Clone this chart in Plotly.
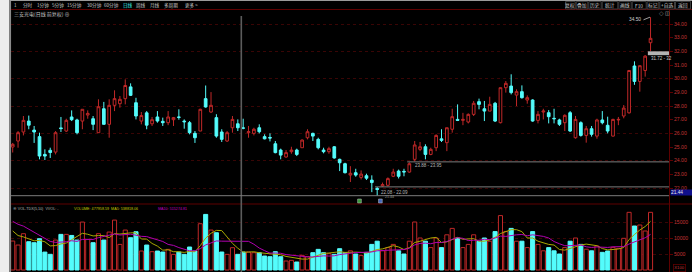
import plotly.graph_objects as go
import numpy as np

W, H = 692, 272
def px(x): return x / W
def py(y): return 1 - y / H

# ---------------- data ----------------
opens = [25.00, 25.44, 26.10, 26.90, 26.24, 25.76, 24.46, 24.76, 24.63, 26.40,
         26.17, 27.20, 26.98, 26.90, 27.34, 27.07, 26.05, 27.80, 26.66, 28.05,
         28.17, 28.54, 29.40, 28.24, 26.90, 27.50, 26.70, 27.20, 26.88, 26.78,
         27.00, 27.20, 26.90, 26.78, 26.00, 26.17, 28.54, 27.56, 27.15, 26.10,
         25.44, 26.41, 26.70, 26.40, 26.05, 26.00, 26.41, 25.76, 25.70, 25.24,
         24.78, 24.27, 24.66, 24.78, 24.95, 25.68, 26.00, 25.56, 24.78, 24.66,
         25.02, 24.10, 23.78, 22.95, 23.12, 22.78, 22.90, 22.58, 21.97, 22.15,
         22.20, 22.86, 23.24, 23.22, 23.17, 24.10, 24.83, 25.02, 24.46, 24.95,
         25.60, 25.32, 26.30, 27.02, 26.95, 26.83, 27.39, 28.32, 27.80, 27.63,
         28.20, 26.78, 29.34, 29.46, 28.80, 29.05, 28.44, 28.44, 26.95, 27.56,
         27.51, 27.10, 26.98, 26.78, 27.51, 25.68, 26.78, 25.85, 26.34, 25.80,
         26.98, 26.59, 25.80, 26.98, 27.27, 27.50, 30.93, 29.80, 30.60, 32.63]
closes = [25.20, 26.05, 26.95, 26.60, 26.10, 24.34, 24.34, 24.60, 26.05, 26.35,
          26.95, 27.00, 26.05, 27.76, 27.46, 26.66, 27.95, 26.66, 28.05, 28.54,
          28.49, 29.50, 28.78, 27.27, 27.30, 26.60, 27.00, 26.90, 26.78, 27.20,
          27.15, 27.17, 26.85, 26.05, 25.68, 27.76, 27.93, 28.05, 25.80, 25.56,
          26.05, 27.02, 26.41, 26.38, 26.12, 26.30, 26.12, 25.60, 25.66, 24.59,
          24.41, 24.59, 24.78, 24.46, 25.51, 26.12, 25.80, 24.95, 24.66, 24.88,
          24.20, 23.85, 23.12, 23.08, 22.95, 23.02, 22.72, 22.40, 21.90, 22.25,
          22.69, 23.17, 22.86, 23.18, 23.78, 25.15, 25.02, 24.46, 24.83, 25.85,
          25.49, 26.41, 27.22, 26.95, 27.02, 27.39, 28.20, 28.12, 27.63, 28.12,
          26.90, 29.34, 29.66, 28.98, 29.05, 28.61, 28.61, 26.90, 27.39, 27.63,
          27.22, 27.07, 26.66, 27.32, 26.17, 27.02, 25.85, 26.34, 25.93, 26.98,
          26.78, 26.17, 27.02, 27.02, 27.85, 30.60, 29.80, 30.95, 31.65, 32.95]
highs = [25.30, 26.17, 27.27, 27.30, 26.54, 26.05, 24.83, 24.95, 26.17, 27.20,
         27.07, 27.68, 27.07, 27.76, 27.68, 27.27, 28.49, 28.30, 28.49, 29.15,
         28.73, 29.95, 29.66, 28.60, 27.56, 27.63, 27.20, 27.63, 27.15, 27.63,
         27.20, 27.76, 27.02, 26.90, 26.17, 27.80, 29.50, 29.02, 27.40, 26.30,
         26.17, 27.27, 27.02, 27.07, 26.54, 26.41, 26.66, 25.93, 26.00, 25.44,
         24.88, 24.78, 25.02, 24.88, 25.56, 26.30, 26.05, 25.68, 24.95, 25.02,
         25.07, 24.15, 23.85, 23.60, 23.41, 23.29, 23.05, 22.93, 22.08, 22.40,
         22.78, 23.41, 23.35, 23.41, 23.88, 25.44, 25.37, 25.20, 24.95, 25.93,
         26.30, 26.41, 27.80, 28.12, 27.50, 27.46, 28.37, 28.54, 28.37, 28.68,
         28.30, 29.34, 29.83, 30.32, 29.22, 29.51, 28.78, 28.49, 27.63, 27.80,
         27.70, 27.80, 27.07, 27.39, 27.63, 27.27, 26.88, 26.54, 26.54, 27.07,
         27.63, 27.22, 27.07, 27.20, 28.07, 30.62, 31.27, 30.95, 31.72, 34.50]
lows = [24.60, 24.95, 25.85, 26.30, 25.30, 24.10, 24.05, 24.20, 24.46, 26.10,
        26.10, 26.90, 25.93, 26.30, 27.07, 26.24, 26.05, 26.66, 25.68, 27.63,
        27.88, 28.12, 28.73, 27.02, 26.66, 26.30, 26.54, 26.78, 26.54, 26.60,
        26.54, 27.00, 26.34, 25.93, 25.30, 26.17, 27.88, 27.50, 25.68, 25.37,
        25.37, 26.05, 26.17, 26.30, 25.68, 25.85, 26.00, 25.56, 25.41, 24.54,
        24.10, 24.22, 24.51, 24.34, 24.95, 25.56, 25.44, 24.83, 24.54, 24.51,
        24.15, 23.24, 23.07, 22.44, 22.83, 22.63, 22.59, 21.70, 21.44, 22.09,
        22.12, 22.80, 22.70, 22.86, 23.12, 23.95, 24.70, 24.10, 24.40, 24.70,
        25.37, 24.70, 26.05, 26.90, 26.60, 26.73, 27.27, 27.76, 26.90, 27.63,
        26.83, 26.73, 28.98, 28.85, 28.00, 28.54, 28.17, 26.85, 26.73, 27.02,
        26.73, 26.73, 26.54, 26.17, 26.10, 25.61, 25.76, 25.32, 25.76, 25.61,
        26.66, 26.00, 25.76, 26.60, 27.10, 27.45, 29.55, 29.05, 30.15, 32.00]
volumes = [9050, 7800, 11340, 8840, 8530, 9780, 5600, 4900, 9360, 11130,
           11130, 10800, 9360, 14980, 9570, 8530, 11340, 9360, 11860, 15600,
           8000, 12480, 10090, 11960, 5930, 7800, 5720, 5930, 5620, 6450,
           4890, 5620, 4890, 7180, 5930, 14460, 17370, 12480, 11650, 5620,
           4890, 6970, 4890, 5620, 5620, 5410, 5410, 4370, 4160, 5720,
           4160, 2810, 3020, 2500, 4580, 4160, 5410, 6450, 5410, 5100,
           4890, 6660, 5410, 6000, 5000, 4500, 5500, 8000, 9000, 6000,
           7000, 8000, 6000, 5000, 9000, 15000, 10000, 9000, 7000, 10000,
           7000, 11000, 13000, 10000, 7000, 8000, 11000, 9000, 10000, 9000,
           12000, 17000, 12000, 13000, 9000, 9000, 7000, 12000, 8000, 6000,
           7000, 6000, 5000, 7000, 9000, 10000, 8000, 6500, 6000, 7500,
           5520, 5940, 7080, 6770, 9900, 18020, 13750, 14060, 12190, 18020]
vol_prior = [17000, 17000, 18000, 19000, 20000, 15000, 13500, 12500, 11000]

price_ticks = [22, 23, 24, 25, 26, 27, 28, 29, 30, 31, 32, 33, 34]
price_grid = [22, 24, 26, 28, 30, 32, 34]
vol_ticks = [5000, 10000, 15000]
crosshair_price = 21.44
gaps = [(22.08, 22.09), (23.88, 23.95), (31.72, 32.00)]
gap_start = [68, 74, 118]
title_text = "三安光电(日线 前复权) ⊕"
toolbar_left = ["1", "分时", "1分钟", "5分钟", "15分钟", "30分钟", "60分钟",
                "日线", "周线", "月线", "多周期", "更多 >"]
toolbar_right = ["复权", "叠加", "历史", "统计", "画线", "F10", "标记", "+自选", "返回"]
vol_header = [("⊗ VOL-TDX(5,10)  VVOL: -", "#b8b8b8"),
              ("VOLUME: 477958.59  MA5: 538818.06", "#c8c800"),
              ("MA10: 515274.81", "#c000c0")]

# ---------------- styles / positions ----------------
RED = "#c02828"
CYAN = "#54fcfc"
DRED = "#5e0000"
GRID = "#3a0505"
AXTXT = "#c03434"
FONT = "Liberation Sans, Noto Sans CJK SC"
CJK = "Noto Sans CJK SC"

n = len(opens)
idx = list(range(n))
X0, SP = 12.7, 5.36
XL, XR = 11, 669
xr = [(XL - X0) / SP, (XR - X0) / SP]
K = 13.67
def p_at(y): return 34 - (y - 24) / K
def v_at(y): return (270 - y) * 5000 / 16

all_v = vol_prior + volumes
ma5 = [float(np.mean(all_v[i + 9 - 4:i + 10])) for i in range(n)]
ma10 = [float(np.mean(all_v[i:i + 10])) for i in range(n)]
up = [c >= o for o, c in zip(opens, closes)]

fig = go.Figure()
fig.add_trace(go.Candlestick(
    x=idx, open=opens, high=highs, low=lows, close=closes,
    increasing=dict(line=dict(color=RED, width=1), fillcolor="#000000"),
    decreasing=dict(line=dict(color=CYAN, width=1), fillcolor=CYAN),
    whiskerwidth=0, hoverinfo="skip", xaxis="x", yaxis="y", showlegend=False))

fig.add_trace(go.Bar(
    x=idx, y=volumes, width=0.76,
    marker=dict(color=["#000000" if u else CYAN for u in up],
                line=dict(color=[RED if u else CYAN for u in up], width=1)),
    xaxis="x2", yaxis="y2", showlegend=False, hoverinfo="skip"))
fig.add_trace(go.Scatter(x=idx, y=ma5, mode="lines", line=dict(color="#a8a800", width=1),
                         xaxis="x2", yaxis="y2", showlegend=False, hoverinfo="skip"))
fig.add_trace(go.Scatter(x=idx, y=ma10, mode="lines", line=dict(color="#b000b0", width=1),
                         xaxis="x2", yaxis="y2", showlegend=False, hoverinfo="skip"))

shapes = []
ann = []
# left strip
shapes.append(dict(type="rect", xref="paper", yref="paper", x0=0, x1=px(9.5), y0=0, y1=1,
                   fillcolor="#ededed", line=dict(width=0), layer="below"))
shapes.append(dict(type="line", xref="paper", yref="paper", x0=px(10.3), x1=px(10.3), y0=0, y1=1,
                   line=dict(color="#8a8a8a", width=1.5)))
shapes.append(dict(type="line", xref="paper", yref="paper", x0=px(10), x1=1, y0=py(0.5), y1=py(0.5),
                   line=dict(color="#9a9a9a", width=1)))
# frame lines
shapes.append(dict(type="line", xref="paper", yref="paper", x0=px(11), x1=1, y0=py(9.5), y1=py(9.5),
                   line=dict(color=DRED, width=1)))
shapes.append(dict(type="line", xref="paper", yref="paper", x0=px(11), x1=1, y0=py(204), y1=py(204),
                   line=dict(color=DRED, width=1.2)))
shapes.append(dict(type="line", xref="paper", yref="paper", x0=px(669.5), x1=px(669.5), y0=0, y1=py(9.5),
                   line=dict(color=DRED, width=1)))
# toolbar button boxes
btn_edges = [565, 575.7, 588.3, 601.7, 618.3, 631.7, 646.7, 659.3, 675, 691]
for a, b in zip(btn_edges[:-1], btn_edges[1:]):
    shapes.append(dict(type="rect", xref="paper", yref="paper", x0=px(a + 0.5), x1=px(b - 0.5),
                       y0=py(9), y1=py(1.5), line=dict(color="#3c3c3c", width=1), fillcolor="#000000"))
# gaps
for (g0, g1), s in zip(gaps, gap_start):
    if (g1 - g0) > 0.1:
        shapes.append(dict(type="rect", xref="x", yref="y", x0=s + 0.5, x1=xr[1],
                           y0=g0, y1=g1, fillcolor="#b4b4b4", line=dict(width=0)))
    else:
        shapes.append(dict(type="line", xref="x", yref="y", x0=s - 0.4, x1=xr[1],
                           y0=(g0 + g1) / 2, y1=(g0 + g1) / 2, line=dict(color="#7c7c7c", width=1)))
# crosshair
shapes.append(dict(type="line", xref="paper", yref="paper", x0=px(241.3), x1=px(241.3), y0=0, y1=py(16),
                   line=dict(color="#5c5c5c", width=1.6)))
shapes.append(dict(type="line", xref="paper", yref="y", x0=px(11), x1=px(669), y0=crosshair_price,
                   y1=crosshair_price, line=dict(color="#7c7c7c", width=1)))
# event markers
for xm, col in [(64.7, "#3a9a3a"), (68.6, "#4466bb")]:
    shapes.append(dict(type="rect", xref="x", yref="paper", x0=xm - 0.35, x1=xm + 0.35,
                       y0=py(203), y1=py(199), fillcolor=col, line=dict(color="#c0c0c0", width=0.5)))
# high marker line
shapes.append(dict(type="line", xref="paper", yref="y", x0=px(643.5), x1=px(650), y0=p_at(19.8), y1=highs[-1],
                   line=dict(color="#c8c8c8", width=0.8)))

def A(x, y, t, color="#c8c8c8", size=4.5, xa="left", ya="middle", fam=FONT, xref="paper", yref="paper", **kw):
    ann.append(dict(x=x, y=y, xref=xref, yref=yref, text=t, showarrow=False, xanchor=xa, yanchor=ya,
                    font=dict(color=color, size=size, family=fam), **kw))

# toolbar left
tl_x = [12.2, 20.5, 34.8, 50, 64.8, 84.8, 101.5, 121, 134, 148, 162, 183]
for t, x in zip(toolbar_left, tl_x):
    A(px(x), py(5), t, color=("#3cf0f0" if t == "日线" else "#c8c8c8"), size=4.6, fam=CJK)
# toolbar right
tr_c = [570.3, 582, 595, 610, 625, 639.2, 653, 667.1, 683]
for t, x in zip(toolbar_right, tr_c):
    A(px(x), py(5.2), t, color="#d0d0d0", size=4.8, xa="center", fam=CJK)
# title
A(px(11.5), py(13.8), title_text, color="#c8c8c8", size=5, fam=CJK)
A(px(656.5), py(13.3), "◇ ◫", color="#c8c8c8", size=4.6)
# high label
A(px(643), p_at(19.8), "%.2f" % highs[-1], color="#d0d0d0", size=4.8, xa="right", yref="y")
# gap labels
A(px(379), p_at(192.3), "%.2f - %.2f" % gaps[0], color="#b8b8b8", size=4.5, yref="y")
A(px(412.5), p_at(165.3), "%.2f - %.2f" % gaps[1], color="#b8b8b8", size=4.5, yref="y")
A(px(648.5), p_at(58.3), "%.2f - %.0f" % gaps[2], color="#d0d0d0", size=4.5, yref="y")
A(px(383), p_at(197.3), "%.2f" % lows[68], color="#9a9a9a", size=3.6, yref="y")
# crosshair price box
ann.append(dict(x=px(669.6), y=crosshair_price, xref="paper", yref="y", text="%.2f" % crosshair_price,
                showarrow=False, xanchor="left", yanchor="bottom", align="left",
                font=dict(color="#e8e8e8", size=4.8, family=FONT), bgcolor="#10108c",
                width=21, height=5.4, borderpad=0))
# volume header
hx = [11.3, 71.5, 156]
for (t, c), x in zip(vol_header, hx):
    A(px(x), py(208.5), t, color=c, size=3.7)
# X100 box
ann.append(dict(x=px(679), y=py(267.5), xref="paper", yref="paper", text="X100", showarrow=False,
                xanchor="center", yanchor="middle", font=dict(color=AXTXT, size=4.2, family=FONT),
                bordercolor=DRED, borderwidth=0.8, borderpad=0.5))

fig.update_layout(
    width=W, height=H, margin=dict(l=0, r=0, t=0, b=0),
    paper_bgcolor="#000000", plot_bgcolor="#000000",
    boxgap=0.28, bargap=0.2,
    shapes=shapes, annotations=ann, showlegend=False,
    xaxis=dict(domain=[px(XL), px(XR)], range=xr, showgrid=False, zeroline=False,
               showticklabels=False, ticks="", rangeslider=dict(visible=False), fixedrange=True,
               showline=False),
    xaxis2=dict(domain=[px(XL), px(XR)], range=xr, showgrid=False, zeroline=False,
                showticklabels=False, ticks="", anchor="y2", matches="x", showline=False),
    yaxis=dict(domain=[py(204), py(10)], range=[p_at(204), p_at(10)], side="right",
               tickvals=price_ticks, ticktext=["%.2f" % v for v in price_ticks],
               tickfont=dict(color=AXTXT, size=5.1, family=FONT), ticks="outside", ticklen=3,
               tickcolor=DRED, showgrid=False, zeroline=False, showline=True, linecolor=DRED,
               linewidth=1, mirror=False,
               minor=dict(tickvals=price_grid, showgrid=True, griddash="dot", gridcolor=GRID,
                          gridwidth=1, ticks="")),
    yaxis2=dict(domain=[py(271), py(205)], range=[v_at(271), v_at(205)], side="right",
                anchor="x2", tickvals=vol_ticks, ticktext=[str(v) for v in vol_ticks],
                tickfont=dict(color=AXTXT, size=5.1, family=FONT), ticks="outside", ticklen=3,
                tickcolor=DRED, showgrid=True, griddash="dot", gridcolor=GRID, zeroline=False,
                showline=True, linecolor=DRED, linewidth=1),
)

fig.write_html("out.html")
